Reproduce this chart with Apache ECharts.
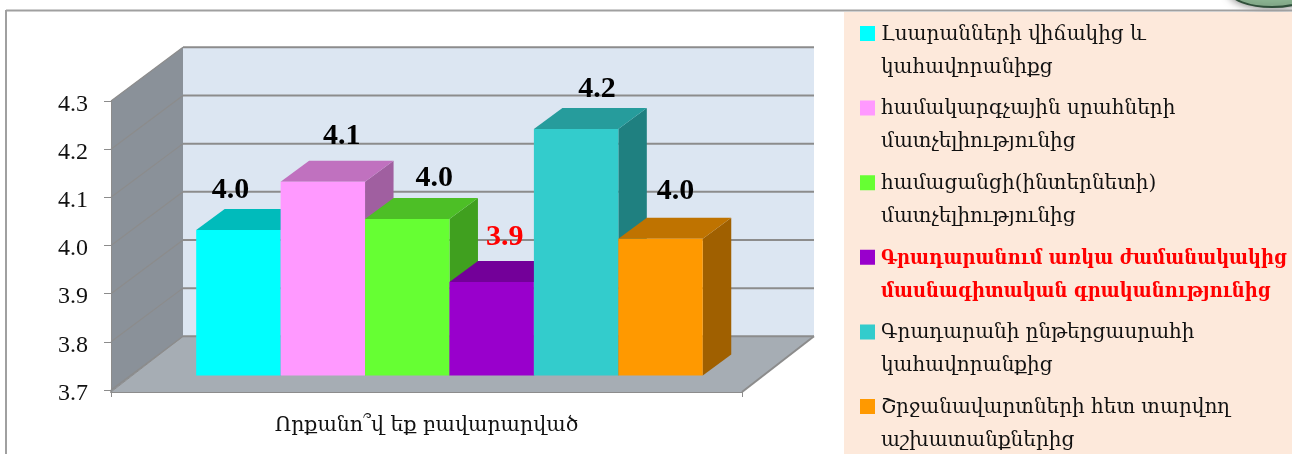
<!DOCTYPE html>
<html><head><meta charset="utf-8">
<style>html,body{margin:0;padding:0;background:#fff}#c{width:1292px;height:454px}</style>
<script src="https://cdn.jsdelivr.net/npm/echarts@6/dist/echarts.min.js"></script>
</head><body><div id="c"></div>
<script>
const categories = ['Որքանո՞վ եք բավարարված'];
const seriesNames = [
  'Լսարանների վիճակից և\nկահավորանիքց',
  'համակարգչային սրահների\nմատչելիությունից',
  'համացանցի(ինտերնետի)\nմատչելիությունից',
  'Գրադարանում առկա ժամանակակից\nմասնագիտական գրականությունից',
  'Գրադարանի ընթերցասրահի\nկահավորանքից',
  'Շրջանավարտների հետ տարվող\nաշխատանքներից'
];
const seriesValues = [4.002, 4.102, 4.025, 3.894, 4.212, 3.984];
const valueTicks = [3.7, 3.8, 3.9, 4.0, 4.1, 4.2, 4.3];
const frontColors = ['#00FFFF', '#FF99FF', '#66FF33', '#9900CC', '#33CCCC', '#FF9900'];
const topColors = ['#00BBBB', '#C071BF', '#4DBF26', '#730099', '#269C9C', '#BF7300'];
const sideColors = ['#009999', '#A05FA0', '#40A01F', '#600080', '#1F8080', '#A06000'];
const labelColors = ['#000', '#000', '#000', '#f00', '#000', '#000'];

const SERIF = '"Liberation Serif","DejaVu Serif",serif';
const ARM = '"DejaVu Serif",serif';
const WALL = {dx: 72, dy: -53.7};
const BAR = {lift: 14.5, width: 0.1338, start: 0.135, dx: 28.5, dy: -21};
const labelNudge = [[-8,-40],[19,-46],[27,-41],[13,-45],[21,-40],[15,-47]];

function renderWalls(params, api) {
  const cs = params.coordSys;
  const y = api.coord([0, api.value(1)])[1];
  const L = cs.x, R = cs.x + cs.width, B = cs.y + cs.height, T = cs.y, d = WALL;
  const line = (x1, y1, x2, y2, w, c) => ({type:'line', shape:{x1,y1,x2,y2}, style:{stroke:c, lineWidth:w}});
  const children = [];
  if (params.dataIndex === 0) {
    children.push(
      {type:'polygon', shape:{points:[[L+d.dx,T+d.dy],[R+d.dx,T+d.dy],[R+d.dx,B+d.dy],[L+d.dx,B+d.dy]]}, style:{fill:'#DCE6F2'}},
      {type:'polygon', shape:{points:[[L,T],[L+d.dx,T+d.dy],[L+d.dx,B+d.dy],[L,B+2]]}, style:{fill:'#8A9199'}},
      {type:'polygon', shape:{points:[[L,B+2],[L+d.dx,B+d.dy],[R+d.dx,B+d.dy],[R,B+2]]}, style:{fill:'#A6ADB4'}},
      line(L,B+2,L+d.dx,B+d.dy,1,'#8C8C8C'),
      line(R,B+2,R+d.dx,B+d.dy,2,'#8C8C8C')
    );
  }
  children.push(line(L+d.dx, y+d.dy, R+d.dx, y+d.dy, 2, '#8C8C8C'));
  children.push(line(L, y, L+d.dx, y+d.dy, 1.2, '#8C8C8C'));
  return {type:'group', children};
}

function renderBar(params, api) {
  const i = params.seriesIndex - 1;
  const cs = params.coordSys;
  const band = cs.width;
  const base = api.coord([0, 3.7])[1] - BAR.lift;
  const top = api.coord([0, api.value(1)])[1] - BAR.lift;
  const w = band * BAR.width;
  const x0 = cs.x + band * BAR.start + i * w;
  const x1 = x0 + w;
  const {dx, dy} = BAR;
  return {type:'group', children:[
    {type:'polygon', shape:{points:[[x1,top],[x1+dx,top+dy],[x1+dx,base+dy],[x1,base]]}, style:{fill:sideColors[i]}},
    {type:'polygon', shape:{points:[[x0,top],[x0+dx,top+dy],[x1+dx,top+dy],[x1,top]]}, style:{fill:topColors[i]}},
    {type:'rect', shape:{x:x0, y:top, width:w, height:base-top}, style:{fill:frontColors[i]}}
  ]};
}

function renderLabel(params, api) {
  const i = params.dataIndex;
  const cs = params.coordSys;
  const band = cs.width;
  const w = band * BAR.width;
  const top = api.coord([0, api.value(1)])[1] - BAR.lift;
  const [nx, ny] = labelNudge[i];
  return {type:'text', style:{
    x: cs.x + band * BAR.start + i * w + w / 2 + nx, y: top + ny,
    text: api.value(1).toFixed(1), fill: labelColors[i],
    font: 'bold 30px ' + SERIF, align:'center', verticalAlign:'middle'
  }};
}

const legendIcon = 'path://M0 0L0 0ZM0 8H15V23H0ZM16 66L16 66Z';

const series = [{
  type:'custom', name:'walls', silent:true, renderItem:renderWalls,
  data: valueTicks.map(v => [0, v]), encode:{x:0, y:1}
}].concat(seriesValues.map((v, i) => ({
  type:'custom', name:seriesNames[i], renderItem:renderBar,
  itemStyle:{color:frontColors[i]},
  data:[[0, v]], encode:{x:0, y:1}
}))).concat([{
  type:'custom', name:'labels', silent:true, renderItem:renderLabel,
  data: seriesValues.map(v => [0, v]), encode:{x:0, y:1}
}]);

const chart = echarts.init(document.getElementById('c'), null, {renderer:'canvas'});
chart.setOption({
  animation:false,
  backgroundColor:'#fff',
  graphic:[
    {type:'rect', z:-10, shape:{x:844,y:12,width:448,height:442}, style:{fill:'#FDE9DB'}},
    {type:'ellipse', z:-11, shape:{cx:1272,cy:-9,rx:42,ry:16}, style:{fill:'#8FB996',stroke:'#2F4F3A',lineWidth:2,shadowBlur:8,shadowColor:'rgba(0,0,0,0.5)'}},
    {type:'line', z:-9, shape:{x1:6,y1:10.5,x2:1292,y2:10.5}, style:{stroke:'#A0A0A0',lineWidth:2}},
    {type:'line', z:-9, shape:{x1:6,y1:10,x2:6,y2:454}, style:{stroke:'#A0A0A0',lineWidth:2}}
  ],
  grid:{left:111, right:550, top:101, bottom:64, containLabel:false},
  xAxis:{type:'category', data:categories, boundaryGap:true, offset:2,
    axisLine:{lineStyle:{color:'#8C8C8C',width:2}},
    axisTick:{show:true,length:5,lineStyle:{color:'#8C8C8C',width:1}},
    axisLabel:{color:'#111',fontFamily:ARM,fontSize:20.5,margin:23,interval:0},
    splitLine:{show:false}},
  yAxis:{type:'value', min:3.7, max:4.3, interval:0.1, z:5,
    axisLine:{show:true,lineStyle:{color:'#8C8C8C',width:1}},
    axisTick:{show:true,length:7,lineStyle:{color:'#8C8C8C',width:1}},
    axisLabel:{margin:23,formatter:v=>'{a|'+v.toFixed(1)+'}',
      rich:{a:{color:'#111',fontFamily:SERIF,fontSize:24,padding:[7,0,0,0]}}},
    splitLine:{show:false}},
  legend:{
    orient:'vertical', left:860, top:18, height:600, padding:0, itemWidth:16, itemHeight:66, itemGap:8.6,
    icon:legendIcon, selectedMode:false, align:'left',
    textStyle:{color:'#111',fontFamily:ARM,fontSize:20,lineHeight:33},
    data:seriesNames.map((n,i)=>({name:n, icon:legendIcon, textStyle:i===3?{color:'#f00',fontWeight:'bold',fontFamily:'"DejaVu Serif Condensed","DejaVu Serif",serif',fontSize:20,lineHeight:33}:undefined}))
  },
  series
});
</script></body></html>
